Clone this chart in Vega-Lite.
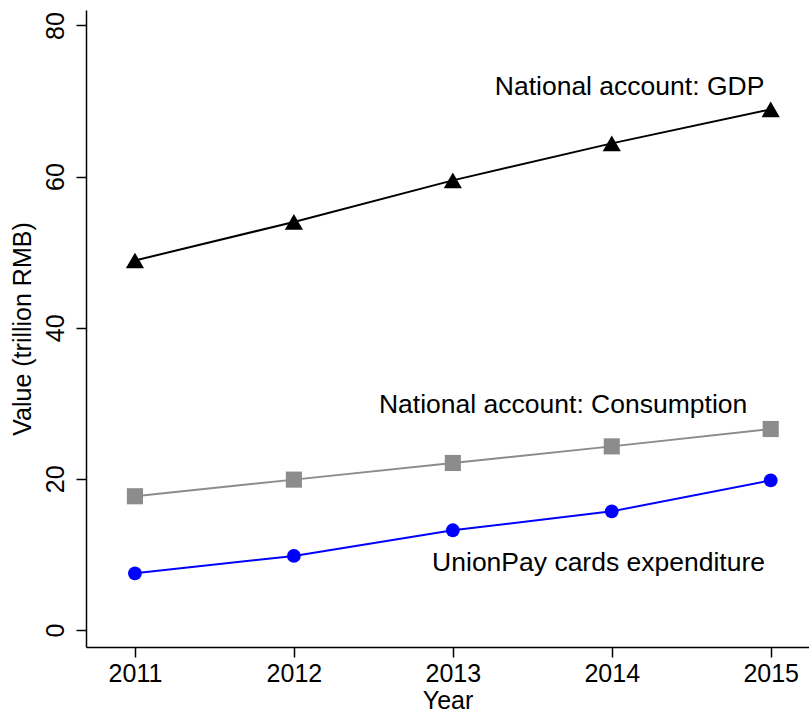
{
  "$schema": "https://vega.github.io/schema/vega-lite/v6.json",
  "width": 723,
  "height": 637,
  "autosize": {"type": "none"},
  "padding": {"left": 86, "top": 10, "right": 0, "bottom": 70},
  "background": "white",
  "config": {
    "view": {"stroke": null},
    "font": "Liberation Sans",
    "axis": {
      "grid": false,
      "domainColor": "black",
      "domainWidth": 1.5,
      "tickColor": "black",
      "tickWidth": 1.5,
      "tickSize": 10,
      "labelFont": "Liberation Sans",
      "labelFontSize": 25,
      "labelColor": "black",
      "titleFont": "Liberation Sans",
      "titleFontSize": 25,
      "titleFontWeight": "normal",
      "titleColor": "black"
    }
  },
  "data": {
    "values": [
      {"year": 2011, "value": 48.9, "series": "GDP"},
      {"year": 2012, "value": 54.0, "series": "GDP"},
      {"year": 2013, "value": 59.5, "series": "GDP"},
      {"year": 2014, "value": 64.4, "series": "GDP"},
      {"year": 2015, "value": 68.9, "series": "GDP"},
      {"year": 2011, "value": 17.7, "series": "Consumption"},
      {"year": 2012, "value": 19.9, "series": "Consumption"},
      {"year": 2013, "value": 22.1, "series": "Consumption"},
      {"year": 2014, "value": 24.3, "series": "Consumption"},
      {"year": 2015, "value": 26.6, "series": "Consumption"},
      {"year": 2011, "value": 7.5, "series": "UnionPay"},
      {"year": 2012, "value": 9.8, "series": "UnionPay"},
      {"year": 2013, "value": 13.2, "series": "UnionPay"},
      {"year": 2014, "value": 15.7, "series": "UnionPay"},
      {"year": 2015, "value": 19.8, "series": "UnionPay"}
    ]
  },
  "encoding": {
    "x": {
      "field": "year",
      "type": "quantitative",
      "scale": {"domain": [2010.692, 2015.241], "nice": false, "zero": false},
      "axis": {"values": [2011, 2012, 2013, 2014, 2015], "format": "d", "title": "Year", "labelPadding": 4, "titlePadding": 2, "labelFlush": false}
    },
    "y": {
      "field": "value",
      "type": "quantitative",
      "scale": {"domain": [-2.25, 82.05], "nice": false, "zero": false},
      "axis": {"values": [0, 20, 40, 60, 80], "title": "Value (trillion RMB)", "labelAngle": -90, "labelAlign": "center", "labelBaseline": "alphabetic", "labelPadding": 13, "titlePadding": 8, "labelFlush": false}
    }
  },
  "layer": [
    {
      "mark": {"type": "line", "strokeWidth": 2},
      "encoding": {
        "color": {"field": "series", "type": "nominal", "scale": {"domain": ["GDP", "Consumption", "UnionPay"], "range": ["#000000", "#8c8c8c", "#0000ff"]}, "legend": null}
      }
    },
    {
      "mark": {"type": "point", "filled": true, "opacity": 1, "strokeWidth": 0},
      "encoding": {
        "color": {"field": "series", "type": "nominal", "scale": {"domain": ["GDP", "Consumption", "UnionPay"], "range": ["#000000", "#8c8c8c", "#0000ff"]}, "legend": null},
        "shape": {"field": "series", "type": "nominal", "scale": {"domain": ["GDP", "Consumption", "UnionPay"], "range": ["triangle-up", "square", "circle"]}, "legend": null},
        "size": {"field": "series", "type": "ordinal", "scale": {"domain": ["GDP", "Consumption", "UnionPay"], "range": [330, 190, 165]}, "legend": null}
      }
    },
    {
      "data": {
        "values": [
          {"label": "National account: GDP", "lx": 2014.112, "ly": 70.8},
          {"label": "National account: Consumption", "lx": 2013.694, "ly": 28.7},
          {"label": "UnionPay cards expenditure", "lx": 2013.917, "ly": 7.85}
        ]
      },
      "mark": {"type": "text", "fontSize": 26.5, "font": "Liberation Sans", "color": "black", "align": "center", "baseline": "alphabetic"},
      "encoding": {
        "x": {"field": "lx", "type": "quantitative"},
        "y": {"field": "ly", "type": "quantitative"},
        "text": {"field": "label"}
      }
    }
  ]
}
